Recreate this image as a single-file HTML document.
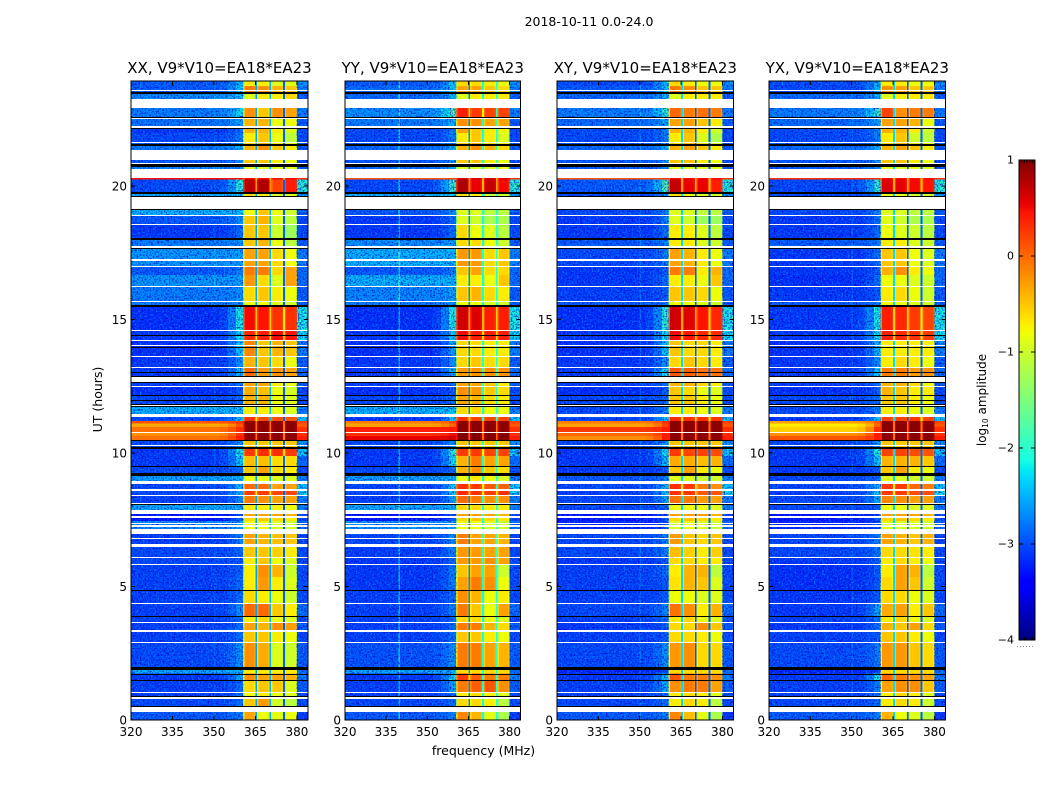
<!DOCTYPE html>
<html lang="en">
<head>
<meta charset="utf-8">
<title>2018-10-11 spectrogram panels</title>
<style>
html,body{margin:0;padding:0;background:#fff;}
svg{display:block;}
text{font-family:"DejaVu Sans","Liberation Sans",sans-serif;fill:#000;}
.tick{font-size:12px;}
.title{font-size:15px;}
.label{font-size:12.5px;}
</style>
</head>
<body>
<svg id="figure" xmlns="http://www.w3.org/2000/svg" width="1050" height="800" viewBox="0 0 1050 800">
<defs>
<filter id="grain-light" x="0" y="0" width="100%" height="100%" color-interpolation-filters="sRGB">
<feTurbulence type="fractalNoise" baseFrequency="0.62" numOctaves="1" seed="4"/>
<feColorMatrix type="matrix" values="0 0 0 0 0  0 0 0 0 0.6  0 0 0 0 1  2.8 0 0 0 -1.35"/>
</filter>
<filter id="grain-dark" x="0" y="0" width="100%" height="100%" color-interpolation-filters="sRGB">
<feTurbulence type="fractalNoise" baseFrequency="0.62" numOctaves="1" seed="11"/>
<feColorMatrix type="matrix" values="0 0 0 0 0  0 0 0 0 0  0 0 0 0 0.78  0 2.6 0 0 -1.15"/>
</filter>
</defs>
<text class="label" x="589" y="26" text-anchor="middle">2018-10-11 0.0-24.0</text>
<text class="label" x="483.5" y="755" text-anchor="middle">frequency (MHz)</text>
<text class="label" transform="translate(102,399.5) rotate(-90)" text-anchor="middle">UT (hours)</text>
<g id="panels"></g>
<g id="colorbar"></g>
<text class="label" transform="translate(986,400) rotate(-90)" text-anchor="middle" style="font-size:12px">log<tspan font-size="7.5" dy="2">10</tspan><tspan dy="-2"> amplitude</tspan></text>
</svg>
<script>
// ---- categories and ticks ----
const panelTitles = ["XX, V9*V10=EA18*EA23","YY, V9*V10=EA18*EA23","XY, V9*V10=EA18*EA23","YX, V9*V10=EA18*EA23"];
const xTickLabels = [320,335,350,365,380];
const yTickLabels = [0,5,10,15,20];
const colorbarTicks = [1,0,-1,-2,-3,-4];

// ---- time axis: row boundaries in UT hours, top to bottom ----
const rowEdgeHours = [24.00,23.81,23.55,23.17,22.59,22.27,22.05,21.65,21.22,20.85,20.55,20.30,19.79,19.42,18.95,18.61,18.07,17.73,17.05,16.71,16.28,15.72,15.55,14.63,14.25,13.65,13.24,12.81,12.53,12.17,11.83,11.44,11.23,11.14,11.00,10.82,10.67,10.50,10.25,9.92,9.52,9.22,8.92,8.64,8.43,8.09,7.81,7.62,7.47,7.10,6.57,6.10,5.84,5.37,4.88,4.38,3.87,3.66,3.34,2.91,1.95,1.75,1.48,1.03,0.83,0.51,0];

// ---- flagged (white) and dropout (black) time spans, [upper hour, lower hour] ----
const flaggedSpans = [[23.65,23.61],[23.34,22.99],[22.61,22.56],[22.30,22.24],[21.70,21.66],[21.42,21.03],[20.93,20.89],[20.71,20.35],[19.65,19.19],[18.97,18.93],[18.63,18.59],[17.81,17.73],[17.30,17.24],[17.04,17.01],[16.29,16.25],[15.73,15.69],[14.65,14.61],[14.26,14.24],[14.07,14.05],[13.66,13.62],[13.25,13.21],[12.88,12.71],[12.53,12.51],[11.83,11.79],[11.49,11.37],[10.82,10.78],[10.33,10.29],[8.98,8.86],[8.66,8.61],[8.45,8.41],[8.14,8.10],[7.89,7.74],[7.65,7.60],[7.41,7.36],[7.31,7.26],[7.17,6.99],[6.84,6.80],[6.62,6.50],[6.12,6.08],[5.86,5.82],[4.39,4.36],[3.68,3.64],[3.38,3.31],[2.93,2.89],[1.04,1.00],[0.88,0.79],[0.49,0.30]];
const dropoutSpans = [[23.59,23.51],[22.65,22.61],[22.24,22.20],[21.65,21.57],[20.87,20.78],[19.82,19.77],[19.68,19.65],[19.19,19.14],[18.10,18.03],[17.73,17.68],[15.58,15.52],[14.45,14.41],[14.02,13.99],[13.08,13.06],[12.91,12.88],[12.71,12.68],[12.19,12.16],[12.03,12.01],[11.88,11.83],[11.79,11.74],[10.52,10.47],[10.25,10.18],[9.54,9.49],[9.28,9.16],[8.10,8.06],[4.88,4.86],[3.89,3.87],[1.98,1.88],[1.73,1.69],[1.50,1.46],[0.90,0.88],[0.53,0.49]];

// ---- frequency bins: edges in MHz, which profile column each uses, and its offset in log10 ----
const binEdgesMHz = [320,339.5,340,350,350.5,352,355,358,360.5,361,364.5,365,365.6,366.1,369.5,370,370.6,371.1,374.5,375,375.6,376.1,379.5,380,384];
const binColumn   = ["bg","bg","bg","bg","bg","mixLow","mixHigh","edge","s1","s1","s1","gap1","s2","s2","s2","gap2","s3","s3","s3","gap3","s4","s4","s4","right"];
const binOffset   = [0,0,0,0,0,0,0,0,-0.55,0,-0.1,0,-0.25,0,-0.1,0,-0.25,0,-0.1,0,-0.25,0,-0.1,0];

// ---- level right of the band (380-384 MHz) per row, log10 amplitude ----
const rightLevels = [-2.6,-2.7,-2.9,-2.7,-2.9,-3,-3,-2.9,-3,-2.9,0.3,-2,-2.6,-2.9,-3,-3,-2.9,-2.7,-2.8,-2.8,-2.9,-2.9,-2.1,-2.2,-2.7,-2.9,-2.8,-2.9,-3,-3,-2.7,-2.3,0.2,0.1,0.3,0.3,0.4,-2.6,-2.3,-2.8,-3,-2.7,-2.3,-2.2,-2.7,-2.7,-3,-3,-2.8,-3,-3,-3,-3,-3,-3,-2.8,-3,-2.9,-3,-2.9,-2.8,-2.7,-2.9,-3,-3,-3.1];

// ---- per-panel channel features ----
const xxGaps = [-2.6,-2.5,-2.9];
const yyGaps = [-2.7,-2.1,-2.0];
const xyGaps = [-2.3,-3.0,-2.9];
const yxGaps = [-2.3,-3.0,-2.9];
const xxStripes = [0,0.15];
const yyStripes = [0.75,0];
const xyStripes = [0,0.25];
const yxStripes = [0,0.2];

// ---- row levels: [background, band edge, subband 1, 2, 3, 4] ----
const xxRows = [
[-2.9,-2.4,-.7,-.7,-.9,-.9],[-2.9,-2.3,-.1,-.2,-.4,-.5],[-2.6,-2.3,-.9,-.7,-.7,-.6],[-2.7,-2.2,-.2,-.5,-.2,-.3],[-2.75,-2.5,-.4,-.4,-.8,-.8],[-3.1,-2.8,-.4,-.4,-.7,-.9],[-3,-2.7,-.7,-.5,-.8,-1.1],[-2.7,-2.4,-.4,-.2,-.5,-.7],[-2.9,-2.6,-.5,-.5,-.7,-.8],[-2.6,-2.5,-.9,-.9,-.9,-.9],[.45,.45,.5,.5,.5,.5],[-3,-2,.75,.8,.2,.4],[-2.4,-2.3,-.6,-.7,-.9,-.9],[-2.4,-2.3,-.8,-.5,-.8,-1],[-2.9,-2.6,-.5,-.4,-.9,-1.1],[-3.1,-2.8,-.5,-.5,-1,-1.3],[-2.7,-2.6,-.5,-.4,-.8,-1.1],[-2.55,-2.5,-.3,-.3,-.6,-.8],[-2.9,-2.7,-.1,-.1,-.6,-.3],[-2.55,-2.5,-.25,-.6,-.9,-.3],[-2.7,-2.6,-.6,-.5,-.7,-.8],[-2.7,-2.6,-.8,-.8,-.9,-1],[-3.15,-2.1,.5,.45,.3,.3],[-3.1,-2.2,.35,.4,.5,.45],[-3.15,-2.3,-.15,-.5,-.4,-.5],[-3.1,-2.6,-.4,-.5,-.6,-.8],[-3.1,-2.4,0,-.25,-.2,-.3],[-3.05,-2.8,-.3,-.3,-.7,-.8],[-3.15,-2.9,-.35,-.45,-.8,-.95],[-3,-2.8,-.4,-.4,-.8,-.9],[-2.4,-2.3,-.7,-.7,-.8,-.9],[-3,-2.3,.3,.15,.15,.1],
[.1,.3,.95,.95,.95,.95],[-.35,.1,.95,.95,.95,.95],[-.05,.3,.95,.95,.95,.95],[-.2,.3,.95,.95,.95,.95],[-.05,.4,.95,.95,.95,.95],
[-3,-2.6,-.5,-.5,-.5,-.5],[-3.1,-2.1,.25,.3,.3,.25],[-3.1,-2.3,-.45,-.45,-.6,-.6],[-3,-2.8,-.5,-.3,-.6,-.7],[-2.5,-2.4,-.8,-.8,-.9,-.9],[-3,-2.4,0,0,-.3,-.3],[-3,-2.4,.25,.25,.2,.2],[-3.05,-2.6,-.1,-.2,-.3,-.3],[-2.45,-2.4,-.7,-.7,-.7,-.8],[-3.3,-3,-.3,-.3,-.3,-.4],[-3.3,-2.9,-.6,-.5,-.6,-.7],[-2.6,-2.5,-.8,-.8,-.9,-1],[-3.05,-2.7,-.3,-.4,-.45,-.5],[-3,-2.8,-.5,-.5,-.55,-.7],[-3,-2.9,-.7,-.5,-.8,-.9],[-3.05,-2.9,-.7,-.2,-.4,-1],[-3.05,-2.8,-.7,-.25,-.7,-.9],[-3.05,-2.8,-.6,-.7,-.8,-1],[-3.05,-2.6,0,0,-.5,-.7],[-3.05,-2.8,-.7,-.6,-.8,-.9],[-3.05,-2.8,-.3,-.4,-.2,-.3],[-3.05,-2.8,-.5,-.5,-.7,-.8],[-3,-2.6,-.2,-.35,-.9,-1],[-2.45,-2.4,-.7,-.7,-.7,-.7],[-3.1,-2.5,-.2,-.3,-.3,-.4],[-3.05,-2.8,-.6,-.5,-.5,-.9],[-3.05,-2.8,-.8,-.7,-.8,-.9],[-3,-2.8,-.5,-.25,-.95,-1.1],[-2.9,-2.7,-.3,-.8,-.85,-.8]];
const yyRows = [
[-2.9,-2.3,-.6,-.6,-.7,-.8],[-2.8,-2.3,-.3,-.3,-.5,-.6],[-2.8,-2.4,-.9,-.7,-.7,-.7],[-2.6,-1.7,.4,.25,.2,.2],[-2.7,-2.4,-.2,-.2,-.3,-.3],[-3,-2.7,-.3,-.5,-.7,-.8],[-3,-2.7,-.7,-.5,-.7,-.9],[-2.8,-2.4,-.4,-.2,-.4,-.6],[-2.9,-2.6,-.5,-.5,-.7,-.8],[-2.8,-2.5,-.9,-.9,-.9,-.9],[.1,.2,.6,.6,.6,.6],[-3,-1.9,.8,.55,.7,.5],[-2.4,-2.3,-.6,-.7,-1,-1],[-2.9,-2.6,-.9,-.9,-1.1,-1.1],[-3.1,-2.8,-.9,-1,-1.2,-1.2],[-3.1,-2.8,-.6,-.8,-.9,-1.1],[-2.6,-2.5,-.6,-.6,-.8,-1],[-2.4,-2.4,-.25,-.25,-.6,-.5],[-2.9,-2.7,-.5,-.3,-.6,-.6],[-2.4,-2.4,-.7,-.7,-.8,-.5],[-2.65,-2.5,-.5,-.4,-.6,-.7],[-2.7,-2.6,-.8,-.8,-.9,-1],[-3.15,-2.1,.65,.6,.4,.4],[-3.1,-2.3,.5,.4,.4,.4],[-3.15,-2.5,-.6,-.6,-.7,-.7],[-3.1,-2.6,-.6,-.5,-.6,-.6],[-3.1,-2.4,-.25,-.2,-.2,-.2],[-3.05,-2.8,-.3,-.3,-.5,-.7],[-3.15,-2.9,-.2,-.25,-.5,-.6],[-3,-2.8,-.3,-.4,-.6,-.7],[-2.4,-2.3,-.6,-.6,-.8,-.8],[-3.1,-2.3,.3,.2,.2,.2],
[-.1,.2,.95,.95,.95,.95],[-.3,0,.95,.95,.95,.95],[.4,.4,.95,.95,.95,.95],[.3,.5,1,1,1,1],[.55,.65,1,1,1,1],
[-3,-2.6,-.5,-.5,-.5,-.5],[-3.1,-2,.25,.25,.2,.2],[-3.1,-2.2,-.4,-.1,-.3,-.3],[-3,-2.8,-.4,-.2,-.5,-.6],[-2.5,-2.4,-.8,-.7,-.8,-.9],[-3,-2.3,.3,.25,.1,.05],[-3,-2.3,.35,.3,.25,.3],[-3.05,-2.5,0,-.1,-.2,-.2],[-2.45,-2.4,-.6,-.6,-.7,-.7],[-3.3,-3,-.3,-.3,-.3,-.4],[-3.3,-2.9,-.6,-.5,-.6,-.7],[-2.55,-2.5,-.8,-.8,-.9,-1],[-3,-2.6,-.1,-.3,-.3,-.4],[-3.05,-2.7,-.25,-.25,-.3,-.3],[-3.1,-2.8,-.25,-.25,-.2,-.3],[-3.1,-2.7,-.5,-.3,-.3,-1],[-3.1,-2.7,-.3,-.1,-.2,-.8],[-3.05,-2.8,-.2,-.4,-.8,-.7],[-3.05,-2.7,-.1,-.5,-.8,-.3],[-3.05,-2.8,-.6,-.6,-.8,-.9],[-3.05,-2.8,-.1,-.1,-.4,-.6],[-3.05,-2.8,-.5,-.5,-.7,-.8],[-2.95,-2.6,-.1,-.1,-.3,-.4],[-2.45,-2.4,-.6,-.6,-.6,-.6],[-3.1,-2.2,.25,.05,-.1,-.1],[-3.05,-2.5,-.1,.05,.1,-.2],[-3.05,-2.8,-.7,-.6,-.7,-.9],[-3,-2.8,-.6,-.6,-.7,-1.1],[-2.9,-2.7,-.15,-.4,-.85,-1.2]];
const xyRows = [
[-3,-2.4,-.6,-.7,-.8,-.8],[-2.9,-2.3,-.1,-.2,-.5,-.5],[-2.8,-2.4,-.9,-.7,-.7,-.7],[-2.7,-2,0,-.1,-.05,-.1],[-2.8,-2.5,-.3,-.3,-.5,-.7],[-3,-2.7,-.4,-.4,-.7,-1],[-3,-2.7,-.7,-.5,-.9,-1.2],[-2.8,-2.4,-.4,-.3,-.5,-.7],[-2.9,-2.6,-.5,-.5,-.7,-.8],[-2.9,-2.6,-.9,-.9,-.9,-.9],[.1,.3,.5,.5,.5,.5],[-2.9,-1.8,.7,.55,.55,.4],[-3,-2.6,-.6,-.8,-.9,-1],[-3,-2.7,-.9,-.9,-1.1,-1.1],[-3.1,-2.7,-.9,-1,-1.3,-1.3],[-3.1,-2.8,-.7,-.7,-.9,-1.1],[-2.9,-2.7,-.7,-.7,-.9,-1],[-3,-2.7,-.3,-.4,-.7,-.8],[-3.1,-2.9,-.1,-.1,-.7,-.4],[-3.1,-2.8,-.7,-.7,-.8,-.5],[-3.05,-2.9,-.5,-.5,-.6,-.8],[-2.9,-2.7,-.8,-.8,-.9,-1],[-3.15,-2,.65,.6,.45,.35],[-3.1,-2.2,.5,.45,.35,.35],[-3.15,-2.3,-.5,-.6,-.6,-.7],[-3.1,-2.6,-.6,-.5,-.6,-.7],[-3.1,-2.2,.1,.05,-.05,-.05],[-3.05,-2.8,-.4,-.4,-.6,-.7],[-3.15,-2.9,-.5,-.6,-.8,-.9],[-3,-2.8,-.5,-.5,-.7,-.8],[-3,-2.7,-.7,-.7,-.8,-.9],[-3,-2.3,.35,.3,.3,.3],
[-.1,.3,.95,.95,.95,.95],[-.3,.2,.95,.95,.95,.95],[.25,.4,.95,.95,.95,.95],[0,.4,.95,.95,.95,.95],[-.2,.4,.95,.95,.95,.95],
[-3,-2.6,-.5,-.5,-.5,-.5],[-3.1,-2.2,.25,.2,.2,.15],[-3.1,-2.4,-.35,-.35,-.45,-.4],[-3.1,-2.9,-.5,-.3,-.7,-.8],[-2.9,-2.7,-.9,-.9,-1,-1],[-3,-2.4,.3,.25,-.1,-.2],[-3.05,-2.3,.3,.3,.1,.1],[-3,-2.5,-.05,-.1,-.25,-.3],[-3,-2.9,-.8,-.8,-.8,-.9],[-3.3,-3,-.3,-.3,-.3,-.4],[-3.3,-2.9,-.6,-.5,-.6,-.7],[-3.2,-3,-.9,-.8,-.9,-1],[-3,-2.7,-.25,-.5,-.6,-.5],[-3,-2.7,-.45,-.55,-.7,-.55],[-3.1,-2.9,-.6,-.6,-.7,-.7],[-3.05,-2.8,-.7,-.4,-.4,-1.1],[-3.05,-2.9,-.65,-.4,-.5,-.9],[-3.05,-2.9,-.8,-.8,-.9,-.9],[-3,-2.7,-.05,-.2,-.7,-.4],[-3.05,-2.8,-.7,-.6,-.8,-.9],[-3.1,-2.9,-.6,-.6,-.2,-.5],[-3.05,-2.9,-.6,-.6,-.7,-.8],[-3,-2.6,-.25,-.2,-.6,-.6],[-3.2,-3,-.6,-.6,-.6,-.6],[-3.1,-2.3,.1,-.1,-.1,-.2],[-3.05,-2.5,-.2,-.1,-.1,-.3],[-3.05,-2.8,-.7,-.6,-.7,-.9],[-3,-2.8,-.7,-.6,-.7,-1.1],[-2.9,-2.7,-.15,-.45,-.85,-1.2]];
const yxRows = [
[-3,-2.4,-.7,-.7,-.8,-.8],[-3,-2.4,-.2,-.3,-.5,-.5],[-2.8,-2.4,-.9,-.7,-.7,-.7],[-2.7,-1.9,.2,-.2,-.1,-.1],[-2.8,-2.5,-.3,-.3,-.4,-.8],[-3,-2.7,-.4,-.4,-.7,-1],[-3,-2.7,-.7,-.5,-1,-1.1],[-2.8,-2.4,-.4,-.3,-.5,-.7],[-2.9,-2.6,-.5,-.5,-.7,-.8],[-2.9,-2.6,-.9,-.9,-.9,-.9],[.3,.3,.5,.5,.5,.5],[-3,-2,.6,.55,.5,.45],[-3,-2.7,-.8,-.8,-1,-1],[-3,-2.7,-.9,-.9,-1.1,-1.1],[-3.1,-2.8,-.9,-1,-1.2,-1.2],[-3.1,-2.8,-.8,-.9,-1,-1.1],[-2.9,-2.7,-.7,-.7,-.9,-1],[-3.1,-2.8,-.5,-.5,-.8,-.9],[-3.1,-2.9,-.4,-.2,-.7,-.8],[-3.15,-2.8,-.8,-.8,-.9,-1],[-3.1,-2.9,-.7,-.6,-.8,-1],[-2.9,-2.7,-.8,-.8,-.9,-1],[-3.1,-2.1,.4,.35,.25,.2],[-3.1,-2.2,.4,.35,.3,.25],[-3.15,-2.4,-.7,-.7,-.7,-.7],[-3.1,-2.6,-.7,-.6,-.7,-.8],[-3.1,-2.3,-.1,-.1,-.25,-.2],[-3.05,-2.8,-.4,-.4,-.6,-.8],[-3.15,-2.9,-.4,-.5,-.7,-.7],[-3,-2.8,-.5,-.5,-.7,-.8],[-3,-2.7,-.7,-.7,-.8,-.9],[-3.1,-2.3,.2,.2,.25,.2],
[-.3,.1,.95,.95,.95,.95],[-.7,0,.95,.95,.95,.95],[-.55,.3,.95,.95,.95,.95],[-.2,.4,.95,.95,.95,.95],[.1,.4,.95,.95,.95,.95],
[-3,-2.6,-.5,-.5,-.5,-.5],[-3.1,-2.1,.2,.2,.15,.1],[-3.1,-2.3,-.4,-.4,-.4,-.5],[-3.1,-2.9,-.5,-.3,-.7,-.8],[-3,-2.8,-.9,-.9,-1,-1],[-3,-2.4,.25,.25,0,-.1],[-3.05,-2.3,.25,.25,.15,.15],[-3,-2.5,-.15,-.2,-.3,-.3],[-3,-2.9,-.8,-.8,-.9,-.9],[-3.3,-3,-.3,-.3,-.3,-.4],[-3.3,-2.9,-.6,-.5,-.6,-.7],[-3.2,-3,-.9,-.9,-.9,-1],[-3,-2.7,-.3,-.4,-.5,-.4],[-3,-2.75,-.6,-.6,-.65,-.7],[-3.1,-2.9,-.7,-.6,-.7,-.8],[-3.15,-2.9,-.7,-.3,-.4,-1.1],[-3.15,-2.9,-.6,-.3,-.5,-1],[-3.1,-2.9,-.6,-.6,-.8,-.9],[-3.1,-2.5,-.35,-.3,-.7,-.5],[-3.05,-2.8,-.7,-.6,-.8,-.9],[-3.1,-2.8,-.4,-.5,-.3,-.6],[-3.05,-2.9,-.5,-.5,-.7,-.8],[-3,-2.7,-.25,-.25,-.5,-.6],[-3.2,-3,-.6,-.6,-.6,-.6],[-3.1,-2.2,0,-.1,-.2,-.3],[-3.05,-2.7,-.3,-.2,-.2,-.5],[-3.05,-2.8,-.7,-.6,-.7,-.9],[-3,-2.8,-.7,-.6,-.7,-1],[-2.9,-2.7,-.4,-.8,-.9,-1.1]];

const panelRows = [xxRows,yyRows,xyRows,yxRows];
const panelGaps = [xxGaps,yyGaps,xyGaps,yxGaps];
const panelStripes = [xxStripes,yyStripes,xyStripes,yxStripes];

// ---- layout (pixels) ----
const panelLeft = [131,345,557,769];
const panelRight = [308,520.5,733.5,945.5];
const plotTop = 81, plotBottom = 720;
const freqMin = 320, freqMax = 384, hourMax = 24;
const tickPxPerHour = 26.7;
const cbLeft = 1019, cbRight = 1035, cbTop = 160, cbBottom = 640, cbMax = 1, cbMin = -4;
const cbEndTickCount = 5;
const NS = "http://www.w3.org/2000/svg";

function lerpStops(stops, t){
  for(let i=1;i<stops.length;i++){
    if(t<=stops[i][0]){
      const a=stops[i-1], b=stops[i];
      return a[1]+(b[1]-a[1])*(t-a[0])/(b[0]-a[0]);
    }
  }
  return stops[stops.length-1][1];
}
const jetR=[[0,0],[.35,0],[.66,1],[.89,1],[1,.5]];
const jetG=[[0,0],[.125,0],[.375,1],[.64,1],[.91,0],[1,0]];
const jetB=[[0,.5],[.11,1],[.34,1],[.65,0],[1,0]];
function colorOf(level){
  const t=Math.max(0,Math.min(1,(level-cbMin)/(cbMax-cbMin)));
  return "rgb("+Math.round(255*lerpStops(jetR,t))+","+Math.round(255*lerpStops(jetG,t))+","+Math.round(255*lerpStops(jetB,t))+")";
}
function yScale(h){ return plotBottom-(h/hourMax)*(plotBottom-plotTop); }
function yTickScale(h){ return plotBottom-h*tickPxPerHour; }
function xScaleFor(p){ return mhz => panelLeft[p]+(mhz-freqMin)/(freqMax-freqMin)*(panelRight[p]-panelLeft[p]); }
function cbScale(v){ return cbBottom-(v-cbMin)/(cbMax-cbMin)*(cbBottom-cbTop); }

function make(tag, attrs, parent){
  const el=document.createElementNS(NS,tag);
  for(const k in attrs) el.setAttribute(k,attrs[k]);
  parent.appendChild(el);
  return el;
}

function cellLevel(row, rowIndex, bin, p){
  const col=binColumn[bin];
  const bg=row[0], edge=row[1];
  let v;
  if(col==="bg") v=bg;
  else if(col==="mixLow") v=bg*0.88+edge*0.12;
  else if(col==="mixHigh") v=bg*0.55+edge*0.45;
  else if(col==="edge") v=edge;
  else if(col==="s1") v=row[2];
  else if(col==="s2") v=row[3];
  else if(col==="s3") v=row[4];
  else if(col==="s4") v=row[5];
  else if(col==="right") v=rightLevels[rowIndex];
  else {
    const g=col==="gap1"?0:col==="gap2"?1:2;
    const s=row[2+g];
    v=s>0.2?Math.max(panelGaps[p][g],s-1.0):panelGaps[p][g];
  }
  if(bg<-2 && binEdgesMHz[bin]===339.5) v+=panelStripes[p][0];
  if(bg<-2 && binEdgesMHz[bin]===350) v+=panelStripes[p][1];
  return v+binOffset[bin];
}

function drawRow(group,p,r,x){
  const row=panelRows[p][r];
  const y0=yScale(rowEdgeHours[r]), y1=yScale(rowEdgeHours[r+1]);
  for(let b=0;b<binColumn.length;b++){
    const x0=x(binEdgesMHz[b]), x1=x(binEdgesMHz[b+1]);
    const cell=make("rect",{x:x0,y:y0,width:x1-x0,height:y1-y0,fill:colorOf(cellLevel(row,r,b,p)),"shape-rendering":"crispEdges"},group);
    
    
  }
}

function drawSpans(group,spans,x0,x1,color,name){
  spans.forEach(s=>{
    const yA=yScale(s[0]), yB=yScale(s[1]);
    const top=Math.round(yA);
    const h=Math.max(1,Math.round(yB)-top);
    const span=make("rect",{x:x0,y:top,width:x1-x0,height:h,fill:color,"shape-rendering":"crispEdges"},group);
    
    
  });
}

const panelsRoot=document.getElementById("panels");
panelTitles.forEach((title,p)=>{
  const x=xScaleFor(p);
  const left=panelLeft[p], right=panelRight[p];
  const g=make("g",{},panelsRoot);
  
  

  const rows=panelRows[p];
  // ordinary rows, then the noise texture, then the bright wide-band rows on top
  for(let r=0;r<rows.length;r++){ if(rows[r][0]<-2) drawRow(g,p,r,x); }
  const grainAreas=[[freqMin,360.5],[380,freqMax]];
  ["grain-light","grain-dark"].forEach(id=>{
    grainAreas.forEach(a=>{
      const tex=make("rect",{x:x(a[0]),y:plotTop,width:x(a[1])-x(a[0]),height:plotBottom-plotTop,fill:"#000",filter:"url(#"+id+")"},g);
      
      
    });
  });
  for(let r=0;r<rows.length;r++){ if(rows[r][0]>=-2) drawRow(g,p,r,x); }

  drawSpans(g,flaggedSpans,left,right,"#fff","flagged-span");
  drawSpans(g,dropoutSpans,left,right,"#000","dropout-span");

  const frame=make("rect",{x:left,y:plotTop,width:right-left,height:plotBottom-plotTop,fill:"none",stroke:"#000","stroke-width":1},g);
  
  

  xTickLabels.forEach(t=>{
    const tx=x(t);
    const bottomTick=make("line",{x1:tx,x2:tx,y1:plotBottom,y2:plotBottom-4,stroke:"#000","stroke-width":1},g);
    
    
    const topTick=make("line",{x1:tx,x2:tx,y1:plotTop,y2:plotTop+4,stroke:"#000","stroke-width":1},g);
    
    
    const lab=make("text",{x:tx,y:plotBottom+16,"text-anchor":"middle",class:"tick"},g);
    
    
    lab.textContent=t;
  });
  yTickLabels.forEach(t=>{
    const ty=yTickScale(t);
    const leftTick=make("line",{x1:left,x2:left+4,y1:ty,y2:ty,stroke:"#000","stroke-width":1},g);
    
    
    const rightTick=make("line",{x1:right,x2:right-4,y1:ty,y2:ty,stroke:"#000","stroke-width":1},g);
    
    
    const lab=make("text",{x:left-4,y:ty+4.5,"text-anchor":"end",class:"tick"},g);
    
    
    lab.textContent=t;
  });
  const ttl=make("text",{x:(left+right)/2,y:73,"text-anchor":"middle",class:"title"},g);
  
  
  ttl.textContent=title;
});

// ---- colorbar ----
const cb=document.getElementById("colorbar");
const cbSteps=cbBottom-cbTop;
for(let i=0;i<cbSteps;i++){
  const v=cbMin+(i+0.5)/cbSteps*(cbMax-cbMin);
  const swatch=make("rect",{x:cbLeft,y:cbBottom-i-1,width:cbRight-cbLeft,height:1,fill:colorOf(v),"shape-rendering":"crispEdges"},cb);
  
  
}
const cbFrame=make("rect",{x:cbLeft,y:cbTop,width:cbRight-cbLeft,height:cbBottom-cbTop,fill:"none",stroke:"#000","stroke-width":1},cb);


colorbarTicks.forEach(t=>{
  const ty=cbScale(t);
  [[cbLeft,cbLeft+4],[cbRight-4,cbRight]].forEach(seg=>{
    const tick=make("line",{x1:seg[0],x2:seg[1],y1:ty,y2:ty,stroke:"#000","stroke-width":1},cb);
    
    
  });
  const lab=make("text",{x:cbLeft-5,y:ty+3.5,"text-anchor":"end",style:"font-size:11px"},cb);
  
  
  lab.textContent=t<0?"\u2212"+Math.abs(t):String(t);
});
for(let i=1;i<=cbEndTickCount;i++){
  const tx=cbLeft+i*(cbRight-cbLeft)/(cbEndTickCount+1);
  [[cbTop,cbTop+3],[cbBottom-3,cbBottom]].forEach(seg=>{
    const endTick=make("line",{x1:tx,x2:tx,y1:seg[0],y2:seg[1],stroke:"#000","stroke-width":1},cb);
    
    
  });
}
const cbDots=make("line",{x1:cbLeft-2,x2:cbRight,y1:646.5,y2:646.5,stroke:"#888","stroke-width":1,"stroke-dasharray":"1 2"},cb);


</script>
</body>
</html>
